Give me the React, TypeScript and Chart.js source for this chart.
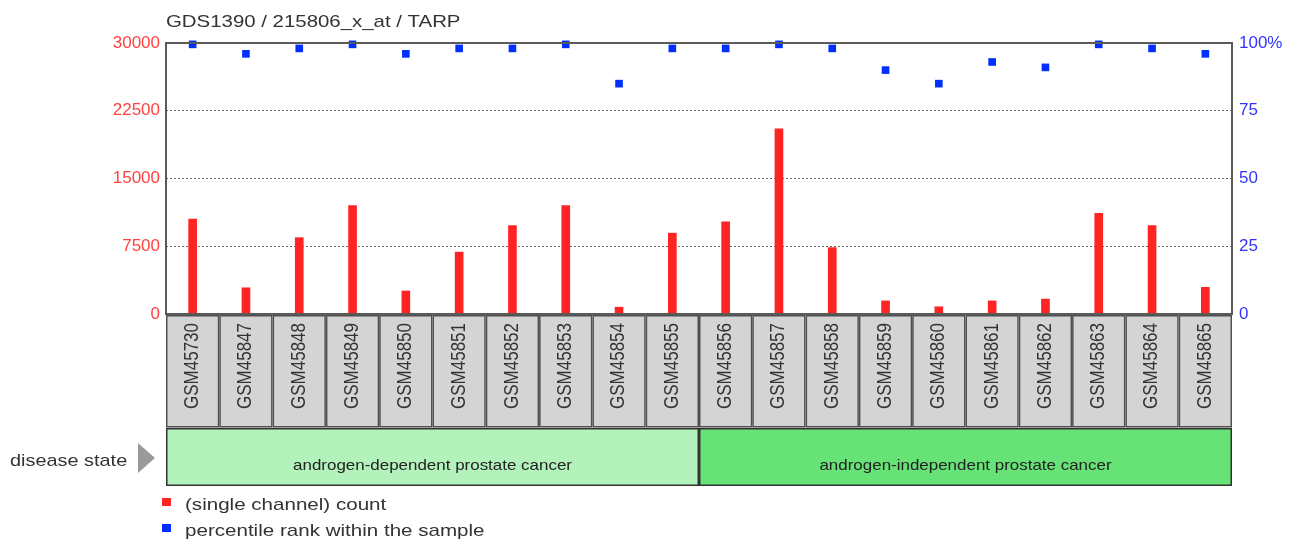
import { useEffect, useRef } from "react";
import { Chart, registerables } from "chart.js";

Chart.register(...registerables);

const FONT = '"Liberation Sans", Arial, sans-serif';

const title = "GDS1390 / 215806_x_at / TARP";

const samples = [
  "GSM45730", "GSM45847", "GSM45848", "GSM45849", "GSM45850",
  "GSM45851", "GSM45852", "GSM45853", "GSM45854", "GSM45855",
  "GSM45856", "GSM45857", "GSM45858", "GSM45859", "GSM45860",
  "GSM45861", "GSM45862", "GSM45863", "GSM45864", "GSM45865",
];

// (single channel) count per sample
const counts = [
  10500, 2900, 8450, 12000, 2550, 6850, 9800, 12000, 750, 8950,
  10200, 20500, 7350, 1450, 800, 1450, 1650, 11150, 9800, 2950,
];

// percentile rank within the sample
const percentiles = [
  99.5, 96, 98, 99.5, 96, 98, 98, 99.5, 85, 98,
  98, 99.5, 98, 90, 85, 93, 91, 99.5, 98, 96,
];

const groupLabels = [
  "androgen-dependent prostate cancer",
  "androgen-independent prostate cancer",
];
const groupSizes = [10, 10];
const groupColors = ["#b3f2bb", "#66e276"];

const countTicks = [0, 7500, 15000, 22500, 30000];
const rankTicks = [0, 25, 50, 75, 100];

const legendItems = [
  { label: "(single channel) count", color: "#ff2424" },
  { label: "percentile rank within the sample", color: "#0030ff" },
];

function stretchedText(
  ctx: CanvasRenderingContext2D,
  text: string,
  x: number,
  y: number,
  sx: number,
  align: CanvasTextAlign = "left"
) {
  ctx.save();
  ctx.translate(x, y);
  ctx.scale(sx, 1);
  ctx.textAlign = align;
  ctx.fillText(text, 0, 0);
  ctx.restore();
}

const panelsPlugin = {
  id: "samplePanels",
  afterDraw(chart: any) {
    const { ctx, chartArea: a, scales } = chart;
    const xs = scales.x;
    const half = (xs.getPixelForValue(1) - xs.getPixelForValue(0)) / 2;
    ctx.save();

    // title
    ctx.fillStyle = "#333";
    ctx.font = `17px ${FONT}`;
    ctx.textBaseline = "alphabetic";
    stretchedText(ctx, title, a.left, 26.5, 1.2);

    // plot frame
    ctx.strokeStyle = "#5a5a5a";
    ctx.lineWidth = 2;
    ctx.strokeRect(a.left, a.top, a.right - a.left, a.bottom - a.top);

    // sample name boxes
    const boxTop = a.bottom + 1;
    const boxBottom = 427.5;
    samples.forEach((name, i) => {
      const c = xs.getPixelForValue(i);
      ctx.fillStyle = "#d4d4d4";
      ctx.fillRect(c - half, boxTop, 2 * half, boxBottom - boxTop);
      ctx.strokeStyle = "#505050";
      ctx.lineWidth = 1.5;
      ctx.strokeRect(c - half + 0.75, boxTop + 0.75, 2 * half - 1.5, boxBottom - boxTop - 1.5);
      ctx.save();
      ctx.translate(c, 323);
      ctx.rotate(-Math.PI / 2);
      ctx.scale(1, 1.15);
      ctx.fillStyle = "#333";
      ctx.font = `17px ${FONT}`;
      ctx.textAlign = "right";
      ctx.textBaseline = "middle";
      ctx.fillText(name, 0, 0);
      ctx.restore();
    });

    // disease state bands
    const bandTop = 428;
    const bandBottom = 486;
    let start = 0;
    groupSizes.forEach((size, g) => {
      const left = xs.getPixelForValue(start) - half;
      const right = xs.getPixelForValue(start + size - 1) + half;
      ctx.fillStyle = groupColors[g];
      ctx.fillRect(left, bandTop, right - left, bandBottom - bandTop);
      ctx.strokeStyle = "#333";
      ctx.lineWidth = 1.5;
      ctx.strokeRect(left + 0.75, bandTop + 0.75, right - left - 1.5, bandBottom - bandTop - 1.5);
      ctx.fillStyle = "#222";
      ctx.font = `15px ${FONT}`;
      ctx.textBaseline = "alphabetic";
      stretchedText(ctx, groupLabels[g], (left + right) / 2, 470, 1.13, "center");
      start += size;
    });

    // row caption
    ctx.fillStyle = "#333";
    ctx.font = `17px ${FONT}`;
    stretchedText(ctx, "disease state", 10, 466, 1.17);
    ctx.fillStyle = "#9a9a9a";
    ctx.beginPath();
    ctx.moveTo(138, 443);
    ctx.lineTo(155, 458);
    ctx.lineTo(138, 473);
    ctx.closePath();
    ctx.fill();

    // legend
    legendItems.forEach((item, i) => {
      const y = 498 + i * 26;
      ctx.fillStyle = item.color;
      ctx.fillRect(162, y, 9, 8);
      ctx.fillStyle = "#333";
      ctx.font = `17px ${FONT}`;
      stretchedText(ctx, item.label, 185, y + 11.5, 1.21);
    });

    ctx.restore();
  },
};

export default function App() {
  const canvasRef = useRef<HTMLCanvasElement | null>(null);

  useEffect(() => {
    const canvas = canvasRef.current;
    if (!canvas) return;
    Chart.defaults.font.family = FONT;

    const chart = new Chart(canvas, {
      type: "bar",
      data: {
        labels: samples,
        datasets: [
          {
            type: "line",
            label: "percentile rank within the sample",
            data: percentiles,
            yAxisID: "y2",
            showLine: false,
            pointStyle: "rect",
            pointRadius: 5.4,
            pointHoverRadius: 5.4,
            pointBackgroundColor: "#0030ff",
            pointBorderWidth: 0,
            borderWidth: 0,
            clip: false,
            order: 1,
          } as any,
          {
            type: "bar",
            label: "(single channel) count",
            data: counts,
            yAxisID: "y",
            backgroundColor: "#ff2424",
            barThickness: 8,
            order: 2,
          },
        ],
      },
      options: {
        responsive: false,
        animation: false,
        events: [],
        layout: { padding: { top: 43, bottom: 227, left: 0, right: 0 } },
        plugins: {
          legend: { display: false },
          tooltip: { enabled: false },
          title: { display: false },
        },
        scales: {
          x: { type: "category", display: false, offset: true },
          y: {
            position: "left",
            min: 0,
            max: 30000,
            afterBuildTicks: (s: any) => {
              s.ticks = countTicks.map((v) => ({ value: v }));
            },
            afterFit: (s: any) => {
              s.width = 166;
            },
            ticks: {
              color: "#ff4040",
              font: { size: 17 },
              padding: 6,
              callback: (v: any) => String(v),
            },
            border: { display: false, dash: [2, 2] },
            grid: {
              drawTicks: false,
              tickLength: 0,
              lineWidth: 1,
              color: (c: any) =>
                c.tick && (c.tick.value === 0 || c.tick.value === 30000)
                  ? "rgba(0,0,0,0)"
                  : "#666",
            },
          },
          y2: {
            position: "right",
            min: 0,
            max: 100,
            afterBuildTicks: (s: any) => {
              s.ticks = rankTicks.map((v) => ({ value: v }));
            },
            afterFit: (s: any) => {
              s.width = 59;
            },
            ticks: {
              color: "#3333ff",
              font: { size: 17 },
              padding: 7,
              callback: (v: any) => (Number(v) === 100 ? "100%" : String(v)),
            },
            border: { display: false },
            grid: { drawOnChartArea: false, drawTicks: false, tickLength: 0 },
          },
        },
      },
      plugins: [panelsPlugin],
    });

    return () => chart.destroy();
  }, []);

  return (
    <div style={{ position: "absolute", left: 0, top: 0, width: 1291, height: 541, background: "#fff" }}>
      <canvas ref={canvasRef} width={1291} height={541} style={{ display: "block" }} />
    </div>
  );
}
